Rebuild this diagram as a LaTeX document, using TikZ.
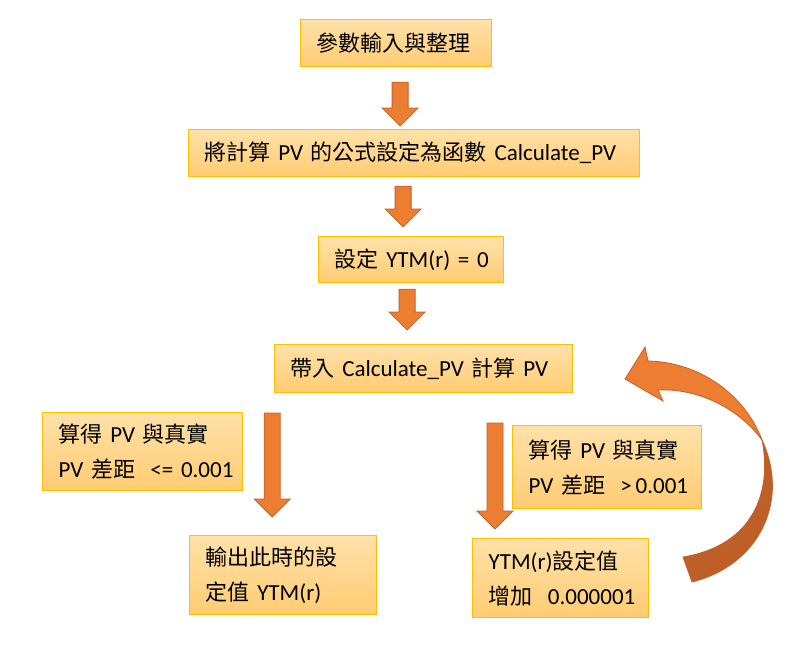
\documentclass[tikz,border=0pt]{standalone}
\usepackage{fontspec}
\setmainfont{Carlito}[WordSpace=0.7]
\newfontfamily\zh[Scale=0.957]{Noto Sans CJK TC}
\usetikzlibrary{calc}
\definecolor{boxtop}{HTML}{FFE1A9}
\definecolor{boxbot}{HTML}{FFCC72}
\definecolor{boxline}{HTML}{FFC000}
\definecolor{arrfill}{HTML}{ED7D31}
\definecolor{arrline}{HTML}{C0632A}
\definecolor{arrdark}{HTML}{BD5F27}
\tikzset{
  stepbox/.style={draw=boxline, line width=1.2pt, top color=boxtop, bottom color=boxbot,
    anchor=north west, align=left, inner xsep=16pt, inner ysep=0pt,
    font=\fontsize{23}{35}\selectfont},
  blockarrow/.style={fill=arrfill, draw=arrline, line width=0.8pt, line join=miter}
}
\newcommand{\blockarr}[2]{%
  \filldraw[blockarrow] let \p1=(#1), \p2=(#2) in
    (\x1-8pt,\y1) -- (\x1+8pt,\y1) -- (\x1+8pt,\y2+18pt) -- (\x1+18pt,\y2+18pt)
    -- (\x1,\y2) -- (\x1-18pt,\y2+18pt) -- (\x1-8pt,\y2+18pt) -- cycle;}
\begin{document}
\begin{tikzpicture}[x=1pt,y=-1pt]
\fill[white] (0,0) rectangle (797,649);
\useasboundingbox (0,0) rectangle (797,649);

\node[stepbox, text width=159pt, minimum height=47pt] (b1) at (300,19) {\zh 參數輸入與整理};
\node[stepbox, text width=419pt, minimum height=47pt] (b2) at (188,129)
  {\mbox{{\zh 將計算} PV {\zh 的公式設定為函數} Calculate\_PV}};
\node[stepbox, text width=153pt, minimum height=46pt] (b3) at (318,236)
  {\mbox{{\zh 設定} YTM(r) = 0}};
\node[stepbox, text width=266pt, minimum height=48pt] (b4) at (274,344)
  {\mbox{{\zh 帶入} Calculate\_PV {\zh 計算} PV}};
\node[stepbox, text width=168pt, minimum height=78pt] (pl) at (42,412)
  {\mbox{{\zh 算得} PV {\zh 與真實}}\\\mbox{PV {\zh 差距}~ <= 0.001}};
\node[stepbox, text width=155pt, minimum height=79pt] (po) at (189,535)
  {{\zh 輸出此時的設}\\{\zh 定值} YTM(r)};
\node[stepbox, text width=157pt, minimum height=83pt] (pr) at (512,425)
  {\mbox{{\zh 算得} PV {\zh 與真實}}\\\mbox{PV {\zh 差距}~ >\,0.001}};
\node[stepbox, text width=144pt, minimum height=79pt] (py) at (472,538)
  {YTM(r){\zh 設定值}\\\mbox{{\zh 增加}~ 0.000001}};

\blockarr{$(b1.south)+(4,15)$}{$(b2.north)+(0,-3)$}
\blockarr{$(b2.south)+(-11,9)$}{$(b3.north)+(0,-9)$}
\blockarr{$(b3.south)+(-4,6)$}{$(b4.north)+(0,-14)$}
\blockarr{$(pl.north east)+(29,1)$}{$(po.north)+(0,-18)$}
\blockarr{$(pr.north west)+(-17,-2)$}{$(py.north)+(0,-9)$}

\filldraw[fill=arrfill, draw=arrline, line width=0.8pt]
  (648,361) .. controls (700,362) and (745,395) .. (762,440)
  .. controls (740,410) and (700,388) .. (658,390)
  -- (663,401) -- (625,379) -- (645,347) -- cycle;
\filldraw[fill=arrdark, draw=arrline, line width=0.8pt]
  (762,440) .. controls (772,490) and (755,545) .. (683,557)
  -- (692,582) .. controls (760,565) and (790,500) .. (762,440) -- cycle;
\end{tikzpicture}
\end{document}
